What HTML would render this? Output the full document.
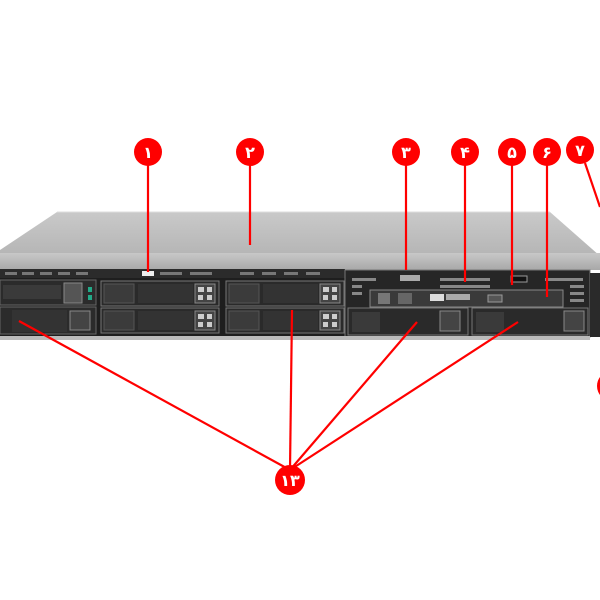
<!DOCTYPE html>
<html><head><meta charset="utf-8"><style>
html,body{margin:0;padding:0;background:#fff;}
svg{display:block}
text{font-family:"Liberation Sans","DejaVu Sans",sans-serif;font-weight:bold;fill:#fff;text-anchor:middle}
</style></head><body>
<svg width="600" height="600" viewBox="0 0 600 600" xmlns="http://www.w3.org/2000/svg">
<defs>
<linearGradient id="top" x1="0" y1="0" x2="0" y2="1">
<stop offset="0" stop-color="#c9c9c9"/><stop offset="1" stop-color="#b4b4b4"/>
</linearGradient>
<linearGradient id="lip" x1="0" y1="0" x2="0" y2="1">
<stop offset="0" stop-color="#c8c8c8"/><stop offset="1" stop-color="#a8a8a8"/>
</linearGradient>
<g id="bay">
<rect x="0" y="0" width="118" height="25" fill="#2a2a2a" stroke="#777" stroke-width="1"/>
<rect x="3" y="3" width="30" height="19" fill="#3b3b3b" stroke="#555"/>
<rect x="37" y="3" width="55" height="19" fill="#333"/>
<rect x="94" y="3" width="20" height="19" fill="#444" stroke="#888"/>
<rect x="97" y="6" width="6" height="5" fill="#ccc"/><rect x="106" y="6" width="5" height="5" fill="#ccc"/>
<rect x="97" y="14" width="5" height="5" fill="#ccc"/><rect x="106" y="14" width="5" height="5" fill="#ccc"/>
</g>
</defs>
<rect width="600" height="600" fill="#fff"/>
<!-- top face -->
<polygon points="57,212 550,212 600,256 600,258 0,258 0,250" fill="url(#top)"/>
<line x1="57" y1="212" x2="550" y2="212" stroke="#ddd"/>
<!-- front lip -->
<rect x="0" y="253" width="600" height="17" fill="url(#lip)"/>
<!-- vent row -->
<rect x="0" y="269" width="345" height="9" fill="#2b2b2b"/>
<g fill="#777">
<rect x="5" y="272" width="12" height="3"/><rect x="22" y="272" width="12" height="3"/><rect x="40" y="272" width="12" height="3"/><rect x="58" y="272" width="12" height="3"/><rect x="76" y="272" width="12" height="3"/>
<rect x="160" y="272" width="22" height="3"/><rect x="190" y="272" width="22" height="3"/><rect x="240" y="272" width="14" height="3"/><rect x="262" y="272" width="14" height="3"/><rect x="284" y="272" width="14" height="3"/><rect x="306" y="272" width="14" height="3"/>
</g>
<rect x="142" y="271" width="12" height="5" fill="#eee"/>
<!-- left bays area -->
<rect x="0" y="278" width="345" height="58" fill="#1e1e1e"/>
<rect x="0" y="280" width="96" height="25" fill="#2b2b2b" stroke="#666"/>
<rect x="3" y="285" width="58" height="14" fill="#3a3a3a"/>
<rect x="64" y="283" width="18" height="20" fill="#555" stroke="#888"/>
<rect x="88" y="287" width="4" height="5" fill="#2a8"/><rect x="88" y="295" width="4" height="5" fill="#2a8"/>
<rect x="0" y="307" width="96" height="27" fill="#2b2b2b" stroke="#666"/>
<rect x="12" y="310" width="55" height="22" fill="#333"/>
<rect x="70" y="311" width="20" height="19" fill="#444" stroke="#888"/>
<use href="#bay" x="101" y="281"/>
<use href="#bay" x="101" y="308"/>
<use href="#bay" x="226" y="281"/>
<use href="#bay" x="226" y="308"/>
<!-- right section -->
<rect x="345" y="270" width="245" height="67" fill="#262626" stroke="#777"/>
<g fill="#888">
<rect x="352" y="278" width="24" height="3"/><rect x="352" y="285" width="10" height="3"/><rect x="352" y="292" width="10" height="3"/>
<rect x="440" y="278" width="50" height="3"/><rect x="440" y="285" width="50" height="3"/>
<rect x="545" y="278" width="38" height="3"/><rect x="570" y="285" width="14" height="3"/><rect x="570" y="292" width="14" height="3"/><rect x="570" y="299" width="14" height="3"/>
</g>
<rect x="400" y="275" width="20" height="6" fill="#aaa"/>
<rect x="511" y="276" width="16" height="6" fill="#111" stroke="#999"/>
<rect x="370" y="290" width="193" height="17" fill="#3a3a3a" stroke="#888"/>
<rect x="378" y="293" width="12" height="11" fill="#777"/><rect x="398" y="293" width="14" height="11" fill="#666"/>
<rect x="430" y="294" width="14" height="7" fill="#ddd"/><rect x="446" y="294" width="24" height="6" fill="#aaa"/>
<rect x="488" y="295" width="14" height="7" fill="#555" stroke="#999"/>
<rect x="348" y="308" width="120" height="27" fill="#2a2a2a" stroke="#777"/>
<rect x="352" y="312" width="28" height="20" fill="#3a3a3a"/>
<rect x="440" y="311" width="20" height="20" fill="#444" stroke="#888"/>
<rect x="472" y="308" width="116" height="27" fill="#2a2a2a" stroke="#777"/>
<rect x="476" y="312" width="28" height="20" fill="#3a3a3a"/>
<rect x="564" y="311" width="20" height="20" fill="#444" stroke="#888"/>
<rect x="590" y="273" width="10" height="64" fill="#2a2a2a"/>
<rect x="0" y="336" width="590" height="4" fill="#bbb"/>
<!-- leader lines -->
<g stroke="#f00" stroke-width="2.2" fill="none">
<line x1="148" y1="165" x2="148" y2="272"/>
<line x1="250" y1="165" x2="250" y2="245"/>
<line x1="406" y1="165" x2="406" y2="270"/>
<line x1="465" y1="165" x2="465" y2="282"/>
<line x1="512" y1="165" x2="512" y2="285"/>
<line x1="547" y1="165" x2="547" y2="297"/>
<line x1="585" y1="163" x2="600" y2="207"/>
<line x1="290" y1="470" x2="19" y2="321"/>
<line x1="290" y1="470" x2="292" y2="310"/>
<line x1="290" y1="470" x2="417" y2="322"/>
<line x1="290" y1="470" x2="518" y2="322"/>
</g>
<!-- circles -->
<g fill="#f00">
<circle cx="148" cy="152" r="14"/><circle cx="250" cy="152" r="14"/>
<circle cx="406" cy="152" r="14"/><circle cx="465" cy="152" r="14"/>
<circle cx="512" cy="152" r="14"/><circle cx="547" cy="152" r="14"/>
<circle cx="580" cy="150" r="14"/><circle cx="290" cy="480" r="15"/>
<circle cx="612" cy="386" r="15"/>
</g>
<g font-size="16">
<text x="148" y="158">١</text><text x="250" y="158">٢</text>
<text x="406" y="158">٣</text><text x="465" y="158">۴</text>
<text x="512" y="158">۵</text><text x="547" y="158">۶</text>
<text x="580" y="156">٧</text><text x="290" y="486">١٣</text>
</g>
</svg>
</body></html>
